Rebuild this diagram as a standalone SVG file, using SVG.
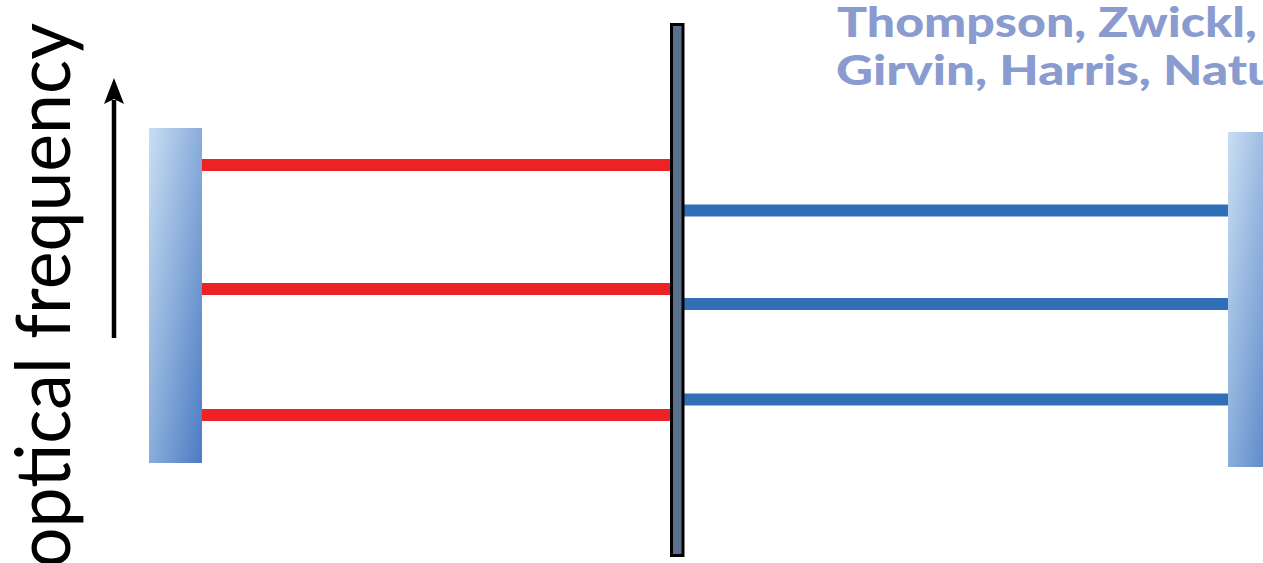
<svg xmlns="http://www.w3.org/2000/svg" width="1263" height="563" viewBox="0 0 1263 563">
<style>
.red{stroke:#ed2224;stroke-width:12;fill:none}
.blue{stroke:#2e6fb7;stroke-width:12;fill:none}
.axis{font-family:"Lato","Liberation Sans",sans-serif;font-size:76px;fill:#000}
.cite{font-family:"Lato","Liberation Sans",sans-serif;font-weight:900;font-size:41px;fill:#8a9bd0}
</style>
<defs>
<linearGradient id="gL" gradientUnits="userSpaceOnUse" x1="149" y1="128" x2="252" y2="144">
<stop offset="0" stop-color="#c9def3"/>
<stop offset="1" stop-color="#4a7bc2"/>
</linearGradient>
<linearGradient id="gR" gradientUnits="userSpaceOnUse" x1="1228" y1="132" x2="1331" y2="148">
<stop offset="0" stop-color="#c9def3"/>
<stop offset="1" stop-color="#4a7bc2"/>
</linearGradient>
</defs>
<rect width="1263" height="563" fill="#fff"/>
<g id="connectors">
<line class="red" x1="202" y1="165" x2="670" y2="165"/>
<line class="red" x1="202" y1="289" x2="670" y2="289"/>
<line class="red" x1="202" y1="415" x2="670" y2="415"/>
<line class="blue" x1="684" y1="210.5" x2="1228" y2="210.5"/>
<line class="blue" x1="684" y1="304" x2="1228" y2="304"/>
<line class="blue" x1="684" y1="399.5" x2="1228" y2="399.5"/>
</g>
<g id="left-mirror"><rect x="149" y="128" width="53" height="335" fill="url(#gL)"/></g>
<g id="right-mirror"><rect x="1228" y="132" width="53" height="335" fill="url(#gR)"/></g>
<g id="membrane"><rect x="671.5" y="24.5" width="11.5" height="531" fill="#5b6f8f" stroke="#000" stroke-width="3"/></g>
<g id="frequency-axis">
<line x1="114" y1="338" x2="114" y2="100" stroke="#000" stroke-width="4.5"/>
<path d="M114 78 L124 104 L114 99 L104 104 Z" fill="#000"/>
<text class="axis" transform="translate(70,568) rotate(-90)" textLength="545" lengthAdjust="spacingAndGlyphs">optical frequency</text>
</g>
<g id="citation">
<text class="cite" x="837" y="37" textLength="452" lengthAdjust="spacingAndGlyphs">Thompson, Zwickl, J</text>
<text class="cite" x="836" y="85" textLength="440" lengthAdjust="spacingAndGlyphs">Girvin, Harris, Natu</text>
</g>
</svg>
